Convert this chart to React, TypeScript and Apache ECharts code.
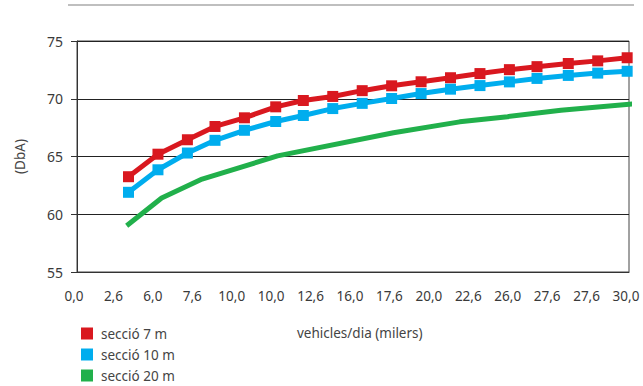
import React, { useEffect, useRef } from "react";
import * as echarts from "echarts";

const tickLabels = ["0,0", "2,6", "6,0", "7,6", "10,0", "10,0", "12,6", "16,0", "17,6", "20,0", "22,6", "26,0", "27,6", "27,6", "30,0"];

const xMarked = [2.8, 4.4, 6.0, 7.5, 9.1, 10.8, 12.3, 13.9, 15.5, 17.1, 18.7, 20.3, 21.9, 23.5, 25.0, 26.7, 28.3, 29.9];
const seccio7 = [63.25, 65.2, 66.45, 67.6, 68.35, 69.3, 69.85, 70.2, 70.7, 71.12, 71.47, 71.82, 72.18, 72.52, 72.78, 73.05, 73.28, 73.55];
const seccio10 = [61.9, 63.85, 65.3, 66.4, 67.27, 68.03, 68.55, 69.15, 69.6, 70.02, 70.45, 70.83, 71.14, 71.46, 71.76, 72.02, 72.22, 72.38];

const xGreen = [2.7, 4.6, 6.8, 10.9, 17.2, 20.8, 23.4, 26.3, 30.2];
const seccio20 = [59.0, 61.4, 63.05, 65.05, 67.05, 68.0, 68.45, 69.0, 69.55];

const seriesNames = ["secció 7 m", "secció 10 m", "secció 20 m"];
const colors = ["#d9181f", "#00adee", "#21b04b"];

const step = 30 / 14;

export default function App() {
  const ref = useRef<HTMLDivElement>(null);
  useEffect(() => {
    if (!ref.current) return;
    const chart = echarts.init(ref.current, null, { renderer: "svg" });
    const font = "'Noto Sans', sans-serif";
    chart.setOption({
      animation: false,
      grid: {
        left: 77,
        right: 14,
        top: 41,
        bottom: 114,
        show: true,
        borderColor: "#444",
        borderWidth: 1,
        backgroundColor: "transparent",
      },
      legend: {
        orient: "vertical",
        left: 81,
        top: 326,
        height: 60,
        padding: 0,
        itemWidth: 12,
        itemHeight: 12,
        itemGap: 6,
        icon: "rect",
        data: seriesNames,
        textStyle: { fontFamily: font, fontSize: 13.5, lineHeight: 15, color: "#444", padding: [0, 0, 0, 3] },
      },
      xAxis: {
        type: "value",
        min: 0,
        max: 30,
        interval: step,
        axisLine: { show: true, lineStyle: { color: "#333", width: 1 } },
        axisTick: { show: false },
        splitLine: { show: false },
        axisLabel: {
          margin: 17,
          fontFamily: font,
          fontSize: 13.5,
          color: "#3a3a3a",
          padding: [0, 6, 0, 0],
          formatter: (v: number) => {
            const i = Math.round(v / step);
            return tickLabels[i] ?? "";
          },
        },
      },
      yAxis: {
        type: "value",
        min: 55,
        max: 75,
        interval: 5,
        name: "(DbA)",
        nameLocation: "middle",
        nameRotate: 90,
        nameGap: 50,
        nameTextStyle: { fontFamily: font, fontSize: 13.5, color: "#444" },
        axisLine: { show: true, lineStyle: { color: "#333", width: 1 } },
        axisTick: { show: true, length: 6, lineStyle: { color: "#333" } },
        splitLine: { show: true, lineStyle: { color: "#222", width: 1 } },
        axisLabel: { margin: 14, fontFamily: font, fontSize: 14, color: "#3a3a3a" },
      },
      graphic: [
        {
          type: "line",
          shape: { x1: 68, y1: 5, x2: 634, y2: 5 },
          style: { stroke: "#aaa", lineWidth: 1.5 },
        },
        {
          type: "text",
          left: 297,
          top: 326,
          style: { text: "vehicles/dia (milers)", font: `13.5px ${font}`, fill: "#444" },
        },
      ],
      series: [
        {
          name: seriesNames[0],
          type: "line",
          data: xMarked.map((x, i) => [x, seccio7[i]]),
          symbol: "rect",
          symbolSize: 11,
          lineStyle: { width: 5, color: colors[0] },
          itemStyle: { color: colors[0] },
          color: colors[0],
          clip: false,
        },
        {
          name: seriesNames[1],
          type: "line",
          data: xMarked.map((x, i) => [x, seccio10[i]]),
          symbol: "rect",
          symbolSize: 11,
          lineStyle: { width: 5, color: colors[1] },
          itemStyle: { color: colors[1] },
          color: colors[1],
          clip: false,
        },
        {
          name: seriesNames[2],
          type: "line",
          data: xGreen.map((x, i) => [x, seccio20[i]]),
          symbol: "none",
          showSymbol: false,
          lineStyle: { width: 5, color: colors[2] },
          itemStyle: { color: colors[2] },
          color: colors[2],
          clip: false,
        },
      ],
    });
    return () => chart.dispose();
  }, []);
  return (
    <div
      ref={ref}
      style={{ position: "fixed", left: 0, top: 0, width: 643, height: 386, background: "#fff" }}
    />
  );
}
